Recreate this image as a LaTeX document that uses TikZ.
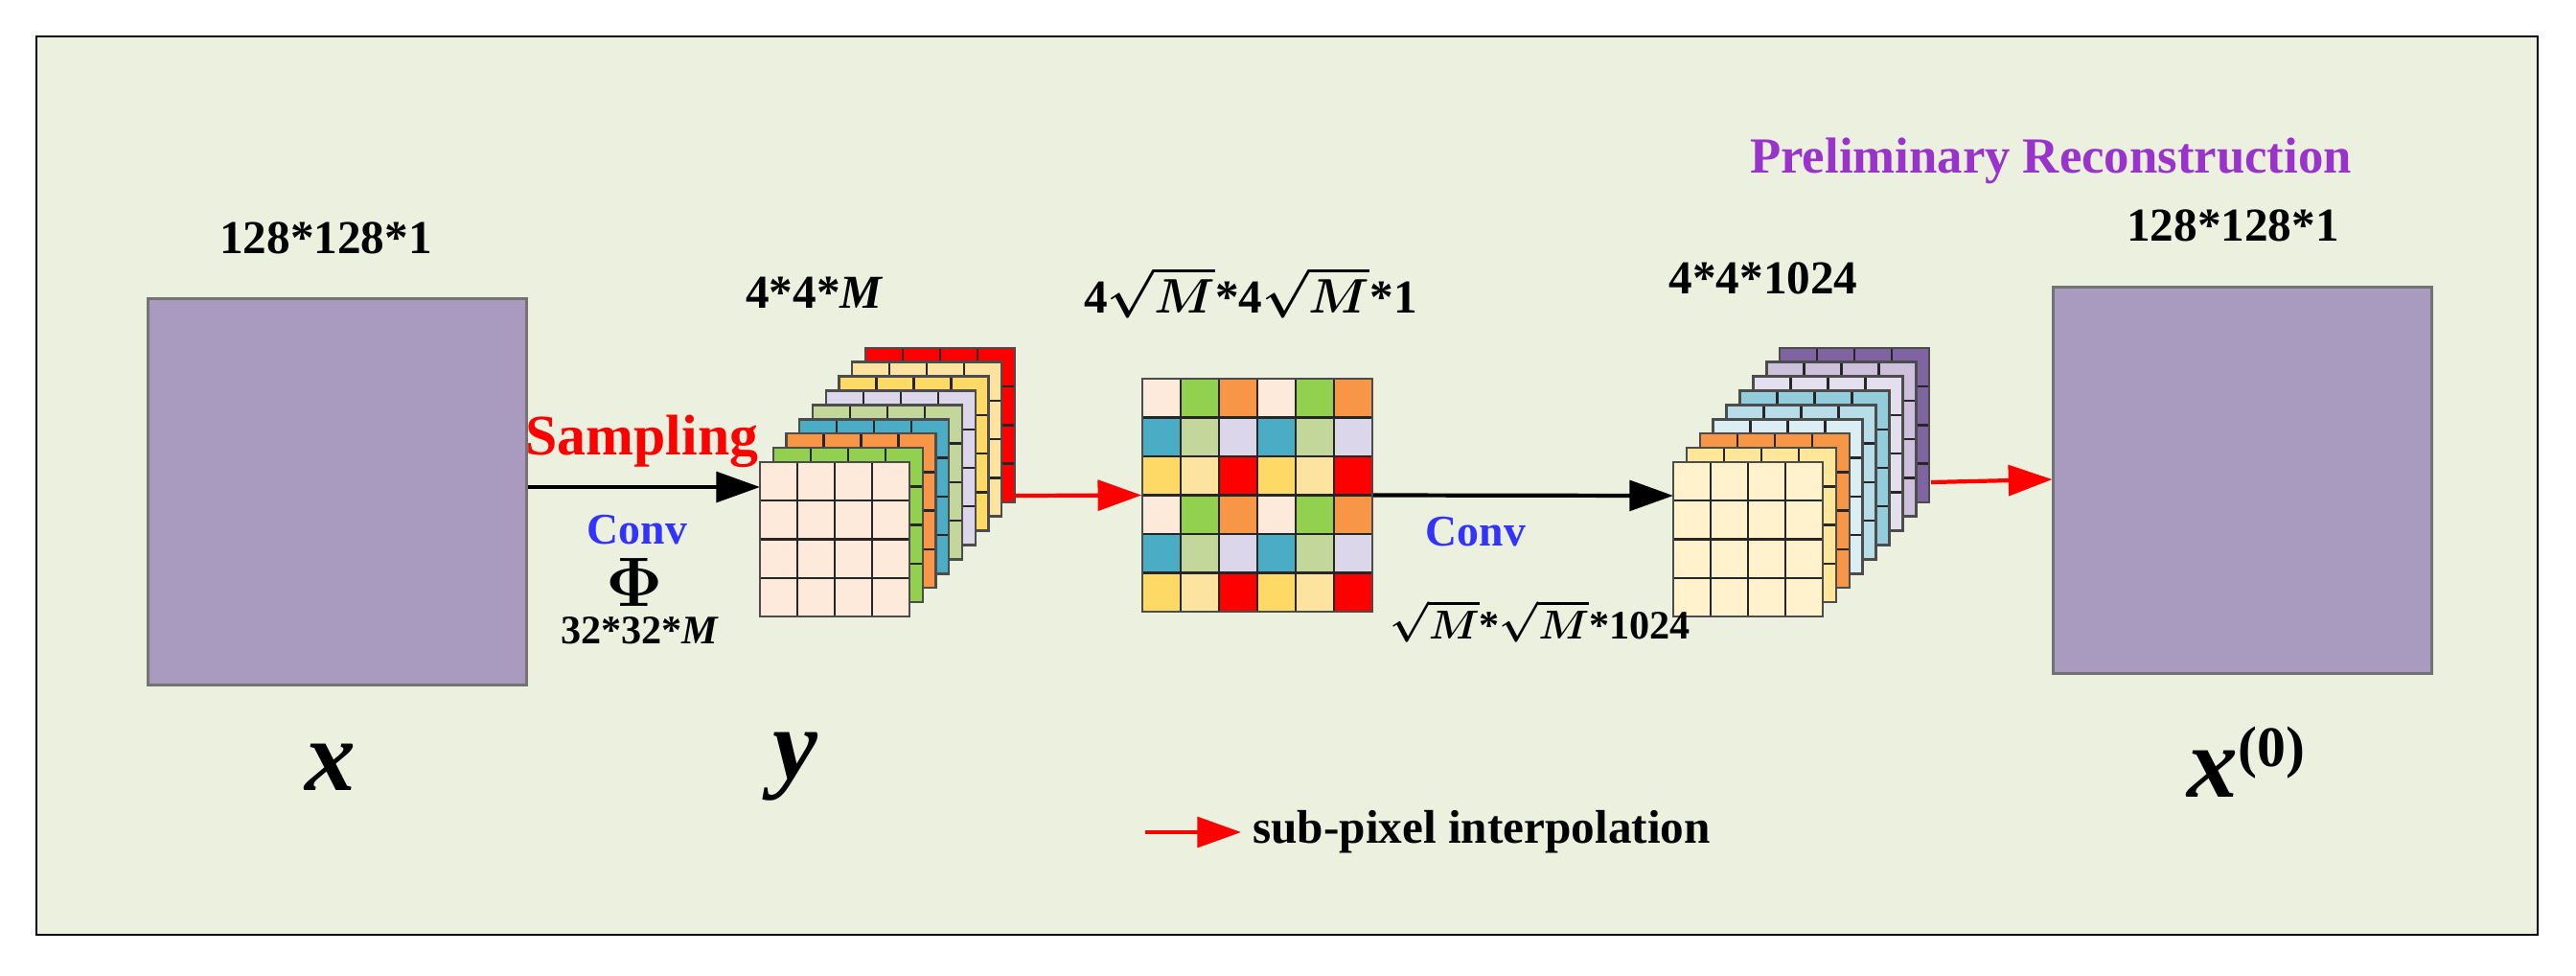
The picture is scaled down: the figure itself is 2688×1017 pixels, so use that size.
\documentclass[tikz,border=0pt]{standalone}
\usepackage{amsmath}
\usepackage{fontspec}
\setmainfont{Liberation Serif}
\usetikzlibrary{arrows.meta}
\definecolor{bg}{HTML}{EBF1DE}
\definecolor{boxc}{HTML}{A99BC0}
\definecolor{cream}{HTML}{FDEADA}
\definecolor{cgreen}{HTML}{92D050}
\definecolor{corange}{HTML}{F79646}
\definecolor{cblue}{HTML}{4BACC6}
\definecolor{csage}{HTML}{C4D79B}
\definecolor{clav}{HTML}{DCD6EA}
\definecolor{cyel}{HTML}{FFD966}
\definecolor{clyel}{HTML}{FCE4A0}
\definecolor{cred}{HTML}{FF0000}
\definecolor{cpur}{HTML}{8064A2}
\definecolor{clpur}{HTML}{CCC0DA}
\definecolor{clav2}{HTML}{E4DFEC}
\definecolor{cteal}{HTML}{92CDDC}
\definecolor{clb}{HTML}{B7DEE8}
\definecolor{cvlb}{HTML}{DAEEF3}
\definecolor{cly2}{HTML}{FFE699}
\definecolor{ccream2}{HTML}{FFF2CC}
\definecolor{tblue}{HTML}{3333FF}
\definecolor{tpurp}{HTML}{9933CC}
\newcommand\mytile[3]{%
  \fill[#3] (#1,#2) rectangle ++(156,161);
  \foreach \k in {1,2,3}{
    \draw[black!85,line width=0.7pt] ({#1+\k*39},#2) -- ++(0,161);
    \draw[black!85,line width=0.7pt] (#1,{#2+\k*40.25}) -- ++(156,0);}
  \draw[black!70,line width=0.7pt] (#1,#2) rectangle ++(156,161);}
\begin{document}
\begin{tikzpicture}[x=0.01cm,y=-0.01cm,
  lbl/.style={font=\bfseries\fontsize{14}{16}\selectfont},
  big/.style={font=\bfseries\itshape\fontsize{30}{32}\selectfont},
  bx/.style={fill=boxc,draw=black!55,line width=0.6pt,minimum width=395*0.01cm,minimum height=403*0.01cm,inner sep=0},
  blk/.style={-{Triangle[length=13pt,width=9pt]},line width=1.2pt,black},
  rd/.style={-{Triangle[length=13pt,width=9pt]},line width=1.2pt,red}]
\useasboundingbox (0,0) rectangle (2688,1017);
\draw[fill=bg,draw=black,line width=0.8pt] (38,38) rectangle (2648,975);
% left box
\node[bx] (xin) at (352,513) {};
\node[lbl] (t1) at (340,248) {128*128*1};
\node[big] (lx) at (345,800) {x};
% stack 1
\foreach \i/\c in {8/cred,7/clyel,6/cyel,5/clav,4/csage,3/cblue,2/corange,1/cgreen,0/cream}{
  \mytile{793+\i*13.75}{482-\i*14.9}{\c}}
\coordinate (s1in) at (793,508);
\coordinate (s1out) at (1059,517);
\node[lbl] at (850,305) {4*4*\textit{M}};
\node[big] at (830,800) {y};
\draw[blk] (xin.east|-s1in) -- (s1in);
\node[lbl,red,font=\bfseries\fontsize{17}{19}\selectfont] at (670,460) {Sampling};
\node[lbl,tblue,font=\bfseries\fontsize{13}{15}\selectfont] at (665,553) {Conv};
\node[font=\fontsize{20}{22}\selectfont] at (662,607) {$\boldsymbol{\Phi}$};
\node[lbl,font=\bfseries\fontsize{12}{14}\selectfont] at (668,658) {32*32*\textit{M}};
% middle grid
\foreach \r/\ca/\cb/\cc in {0/cream/cgreen/corange,1/cblue/csage/clav,2/cyel/clyel/cred,3/cream/cgreen/corange,4/cblue/csage/clav,5/cyel/clyel/cred}{
  \foreach \cidx/\cl in {0/\ca,1/\cb,2/\cc,3/\ca,4/\cb,5/\cc}{
    \fill[\cl] ({1192+\cidx*40},{395+\r*40.5}) rectangle ++(40,40.5);}}
\foreach \k in {1,...,5}{
  \draw[black!85,line width=0.8pt] ({1192+\k*40},395) -- ++(0,243);
  \draw[black!85,line width=0.8pt] (1192,{395+\k*40.5}) -- ++(240,0);}
\draw[black!70,line width=0.8pt] (1192,395) rectangle (1432,638);
\node[inner sep=0,minimum width=2.4cm,minimum height=2.43cm] (mid) at (1312,516.5) {};
\node[lbl] at (1305,305) {4$\boldsymbol{\sqrt{M}}$*4$\boldsymbol{\sqrt{M}}$*1};
\draw[rd] (s1out) -- (mid.west);
% stack 2
\foreach \i/\c in {8/cpur,7/clpur,6/clav2,5/cteal,4/clb,3/cvlb,2/corange,1/cly2,0/ccream2}{
  \mytile{1746+\i*13.9}{482-\i*14.9}{\c}}
\coordinate (s2in) at (1746,517);
\coordinate (s2out) at (2015,503);
\draw[blk] (mid.east) -- (s2in);
\node[lbl,tblue,font=\bfseries\fontsize{13}{15}\selectfont] at (1540,555) {Conv};
\node[lbl,font=\bfseries\fontsize{12}{14}\selectfont,anchor=west] at (1438,648) {$\boldsymbol{\sqrt{M}}$*$\boldsymbol{\sqrt{M}}$*1024};
\node[lbl] at (1840,290) {4*4*1024};
% right box
\node[bx] (xout) at (2340,501) {};
\draw[rd] (s2out) -- (xout.west|-0,500);
\node[lbl] at (2330,235) {128*128*1};
\node[lbl,tpurp,font=\bfseries\fontsize{15}{17}\selectfont] at (2140,168) {Preliminary Reconstruction};
\node[big] at (2345,795) {x\textsuperscript{\upshape\fontsize{17}{19}\selectfont(0)}};
% legend
\coordinate (la) at (1195,868);
\node[lbl,anchor=west] (lt) at (1295,868) {sub-pixel interpolation};
\draw[rd] (la) -- (lt.west);
\end{tikzpicture}
\end{document}
